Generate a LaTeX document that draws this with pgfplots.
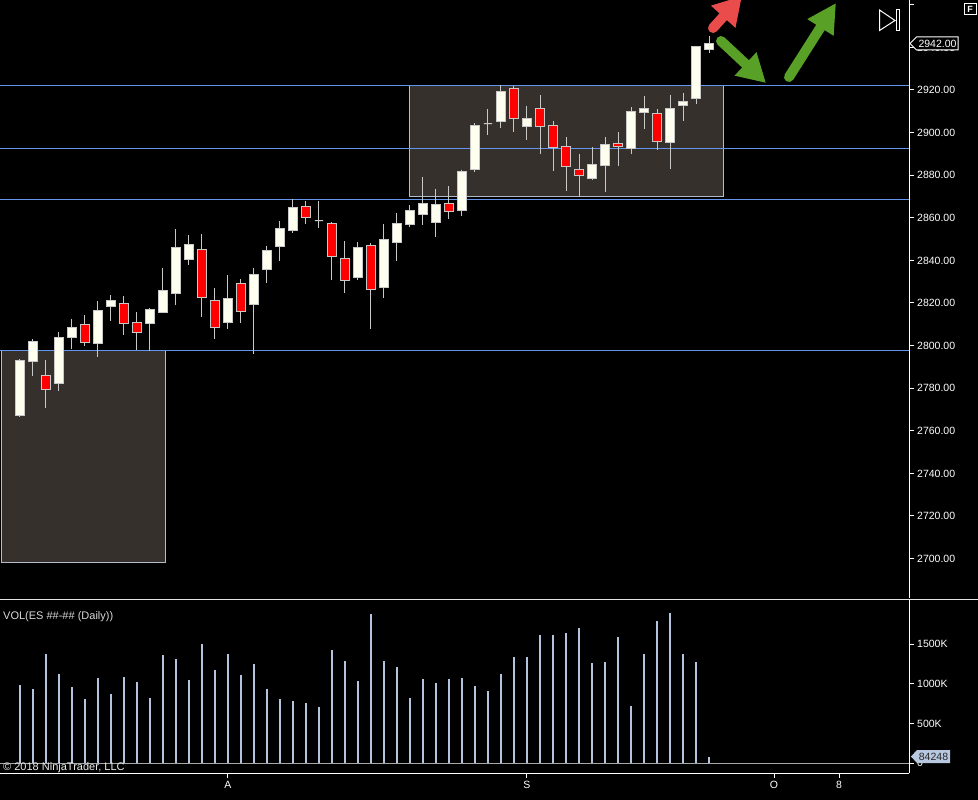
\documentclass[border=0pt]{standalone}
\usepackage{fontspec}
\setmainfont{Liberation Sans}
\usepackage{pgfplots}
\usepackage{pgfplotstable}
\pgfplotsset{compat=1.18}
\usepgfplotslibrary{statistics}
\usetikzlibrary{arrows.meta}

\definecolor{upc}{RGB}{255,255,240}
\definecolor{dnc}{RGB}{255,0,0}
\definecolor{wickc}{RGB}{200,200,200}
\definecolor{hlinec}{RGB}{100,149,237}
\definecolor{boxfill}{RGB}{53,48,43}
\definecolor{boxedge}{RGB}{180,188,204}
\definecolor{volc}{RGB}{180,196,222}
\definecolor{arrred}{RGB}{234,76,76}
\definecolor{arrgreen}{RGB}{88,160,38}
\definecolor{vollab}{RGB}{184,200,224}

% candle table: index, low, body low, body high, high
\pgfplotstableread{
i lo bl bh hi
0 2767.0 2767.1 2792.8 2793.5
1 2785.7 2792.4 2802.0 2803.1
2 2770.7 2779.3 2786.1 2793.2
3 2778.8 2782.1 2803.9 2806.2
4 2798.4 2803.7 2808.6 2812.5
5 2800.0 2801.4 2810.0 2814.4
6 2794.8 2800.9 2816.6 2820.9
7 2811.7 2818.4 2821.3 2823.8
8 2805.1 2810.5 2819.9 2823.3
9 2797.9 2806.2 2810.9 2815.8
10 2797.6 2810.3 2817.0 2817.7
11 2815.2 2815.6 2826.0 2836.4
12 2819.0 2824.4 2846.2 2854.7
13 2838.0 2840.3 2847.6 2851.9
14 2813.6 2822.7 2845.2 2852.4
15 2803.2 2808.6 2821.3 2827.0
16 2807.9 2810.9 2822.2 2833.1
17 2810.8 2816.1 2829.2 2831.3
18 2796.2 2819.4 2833.5 2836.4
19 2829.5 2835.8 2844.7 2846.8
20 2839.9 2846.6 2855.1 2858.4
21 2853.0 2854.1 2864.9 2868.7
22 2857.2 2860.2 2865.4 2867.9
23 2855.4 2858.6 2858.6 2867.9
24 2830.9 2841.9 2857.4 2858.0
25 2824.8 2830.7 2841.0 2849.1
26 2830.9 2831.9 2846.2 2848.5
27 2807.9 2826.4 2847.1 2848.0
28 2822.5 2827.4 2849.9 2857.1
29 2839.9 2848.5 2857.4 2862.3
30 2855.5 2857.0 2863.5 2865.9
31 2856.8 2861.6 2866.8 2879.2
32 2851.1 2857.9 2866.3 2873.5
33 2859.6 2863.1 2866.8 2874.9
34 2861.0 2863.3 2881.8 2882.4
35 2881.6 2882.8 2903.4 2904.4
36 2899.0 2904.2 2904.2 2911.1
37 2902.3 2905.1 2919.4 2922.3
38 2900.4 2906.5 2920.8 2921.9
39 2896.7 2902.8 2906.7 2912.5
40 2890.1 2902.8 2911.4 2917.7
41 2882.1 2893.1 2903.4 2905.4
42 2872.7 2884.2 2893.6 2897.9
43 2869.9 2880.0 2882.8 2890.0
44 2877.9 2878.5 2885.1 2893.2
45 2872.3 2884.6 2894.5 2897.9
46 2884.5 2893.6 2895.0 2900.3
47 2889.8 2892.6 2910.0 2912.0
48 2901.8 2909.5 2911.4 2917.2
49 2892.0 2895.9 2909.1 2911.1
50 2883.1 2895.4 2911.4 2917.7
51 2905.6 2912.8 2914.7 2918.6
52 2913.3 2915.9 2940.2 2940.7
53 2937.5 2939.1 2942.0 2945.4
}\candles

\pgfplotstableread{
i vol
0 984
1 934
2 1374
3 1123
4 959
5 809
6 1072
7 871
8 1085
9 1022
10 821
11 1362
12 1311
13 1047
14 1500
15 1173
16 1374
17 1110
18 1248
19 934
20 809
21 783
22 758
23 708
24 1424
25 1286
26 1035
27 1877
28 1286
29 1211
30 821
31 1060
32 1010
33 1060
34 1072
35 972
36 909
37 1123
38 1336
39 1336
40 1613
41 1613
42 1638
43 1701
44 1261
45 1274
46 1588
47 721
48 1374
49 1789
50 1889
51 1374
52 1274
53 84
}\volumes

% one candle from row #1 of \candles, body filled with colour #2
\newcommand\candle[2]{%
  \pgfplotstablegetelem{#1}{lo}\of\candles\let\cLo\pgfplotsretval
  \pgfplotstablegetelem{#1}{bl}\of\candles\let\cBl\pgfplotsretval
  \pgfplotstablegetelem{#1}{bh}\of\candles\let\cBh\pgfplotsretval
  \pgfplotstablegetelem{#1}{hi}\of\candles\let\cHi\pgfplotsretval
  \edef\next{\noexpand\addplot[draw=wickc, line width=1pt, fill=#2,
    boxplot prepared={draw position=#1, box extend=0.62, whisker extend=0,
      lower whisker=\cLo, lower quartile=\cBl, median=\cBl,
      upper quartile=\cBh, upper whisker=\cHi}] coordinates {};}%
  \next
}

\begin{document}
\begin{tikzpicture}[x=1pt,y=1pt]
\useasboundingbox (0,0) rectangle (978,-800);
\clip (0,0) rectangle (978,-800);
\fill[black] (0,0) rectangle (978,-800);

% ---------- price panel ----------
\begin{axis}[
  at={(0pt,0pt)}, anchor=north west,
  width=909pt, height=598pt, scale only axis,
  xmin=-1.538, xmax=68.385, ymin=2681.5, ymax=2962.25,
  axis x line=none, axis y line*=right,
  y axis line style={white, line width=1pt},
  xtick=\empty,
  ytick={2700,2720,2740,2760,2780,2800,2820,2840,2860,2880,2900,2920,2940,2960},
  yticklabels={2700.00,2720.00,2740.00,2760.00,2780.00,2800.00,2820.00,2840.00,2860.00,2880.00,2900.00,2920.00,2940.00,{}},
  tick align=outside, major tick length=5pt,
  major tick style={white, line width=1pt},
  yticklabel style={anchor=west, inner sep=0pt, xshift=3pt, text=white,
    font=\fontsize{10.5}{12}\selectfont},
  boxplot/draw direction=y,
  clip=true,
]
% shaded ranges
\fill[boxfill, draw=boxedge, line width=1pt] (axis cs:-1.46,2797.9) rectangle (axis cs:11.23,2698.4);
\fill[boxfill, draw=boxedge, line width=1pt] (axis cs:30.0,2921.9) rectangle (axis cs:54.08,2869.8);
% horizontal levels
\draw[hlinec, line width=1pt] (axis cs:-1.538,2922.0) -- (axis cs:68.385,2922.0);
\draw[hlinec, line width=1pt] (axis cs:-1.538,2892.6) -- (axis cs:68.385,2892.6);
\draw[hlinec, line width=1pt] (axis cs:-1.538,2868.7) -- (axis cs:68.385,2868.7);
\draw[hlinec, line width=1pt] (axis cs:-1.538,2797.8) -- (axis cs:68.385,2797.8);
% up candles
\pgfplotsinvokeforeach{0,1,3,4,6,7,10,11,12,13,16,18,19,20,21,23,26,28,29,30,31,32,34,35,36,37,39,44,45,47,48,50,51,52,53}{
  \candle{#1}{upc}
}
% down candles
\pgfplotsinvokeforeach{2,5,8,9,14,15,17,22,24,25,27,33,38,40,41,42,43,46,49}{
  \candle{#1}{dnc}
}
\end{axis}

% ---------- volume panel ----------
\begin{axis}[
  at={(0pt,-599pt)}, anchor=north west,
  width=909pt, height=174pt, scale only axis,
  xmin=-1.538, xmax=68.385, ymin=-122, ymax=2067,
  axis x line*=bottom, axis y line*=right,
  axis line style={white, line width=1pt},
  xtick={16,39,58,63}, xticklabels={A,S,O,8},
  ytick={0,500,1000,1500}, yticklabels={0,500K,1000K,1500K},
  tick align=outside, major tick length=5pt,
  major tick style={white, line width=1pt},
  yticklabel style={anchor=west, inner sep=0pt, xshift=3pt, text=white,
    font=\fontsize{10.5}{12}\selectfont},
  xticklabel style={anchor=north, inner sep=0pt, yshift=-3pt, text=white,
    font=\fontsize{10.5}{12}\selectfont},
  clip=true,
]
\draw[white!65!black, line width=1pt] (axis cs:-1.538,0) -- (axis cs:68.385,0);
\addplot[ycomb, volc, line width=2.2pt] table[x=i, y=vol] {\volumes};
\end{axis}

% separator
\draw[white!90!black, line width=1pt] (0,-599) -- (978,-599);

% annotations: arrows
\draw[arrred, line width=10pt, line cap=round, -{Triangle[length=28pt,width=31pt]}] (713,-28) -- (742,4);
\draw[arrgreen, line width=10pt, line cap=round, -{Triangle[length=28pt,width=30pt]}] (721,-41) -- (766,-83);
\draw[arrgreen, line width=10pt, line cap=round, -{Triangle[length=29pt,width=29pt]}] (789,-77) -- (836,-3);

% last price marker
\filldraw[fill=black, draw=white, line width=1pt] (910,-43.5) -- (916.5,-37) -- (958,-37) -- (958,-50) -- (916.5,-50) -- cycle;
\node[text=white, font=\fontsize{10.5}{12}\selectfont, inner sep=0pt] at (937.5,-43.5) {2942.00};
% last volume marker
\fill[vollab] (911,-756.5) -- (917,-750) -- (950,-750) -- (950,-763) -- (917,-763) -- cycle;
\node[text=black!85, font=\fontsize{10.5}{12}\selectfont, inner sep=0pt] at (933.5,-756.5) {84248};

% icons
\draw[white, line width=1pt] (879.5,-10) -- (895,-20.5) -- (879.5,-30.5) -- cycle;
\draw[white, line width=1pt] (896.5,-10) rectangle (899.5,-30.5);
\filldraw[fill=black, draw=white, line width=1pt] (964.5,-3.5) rectangle (976,-14.5);
\node[text=white, font=\bfseries\fontsize{9}{9}\selectfont, inner sep=0pt] at (970.2,-9) {F};

% texts
\node[anchor=west, text=white!85!black, font=\fontsize{11}{13}\selectfont, inner sep=0pt] at (3,-617) {VOL(ES \#\#-\#\# (Daily))};
\node[anchor=west, text=white!92!black, font=\fontsize{11}{13}\selectfont, inner sep=0pt] at (3,-767.5) {\textcopyright{} 2018 NinjaTrader, LLC};
\end{tikzpicture}
\end{document}
